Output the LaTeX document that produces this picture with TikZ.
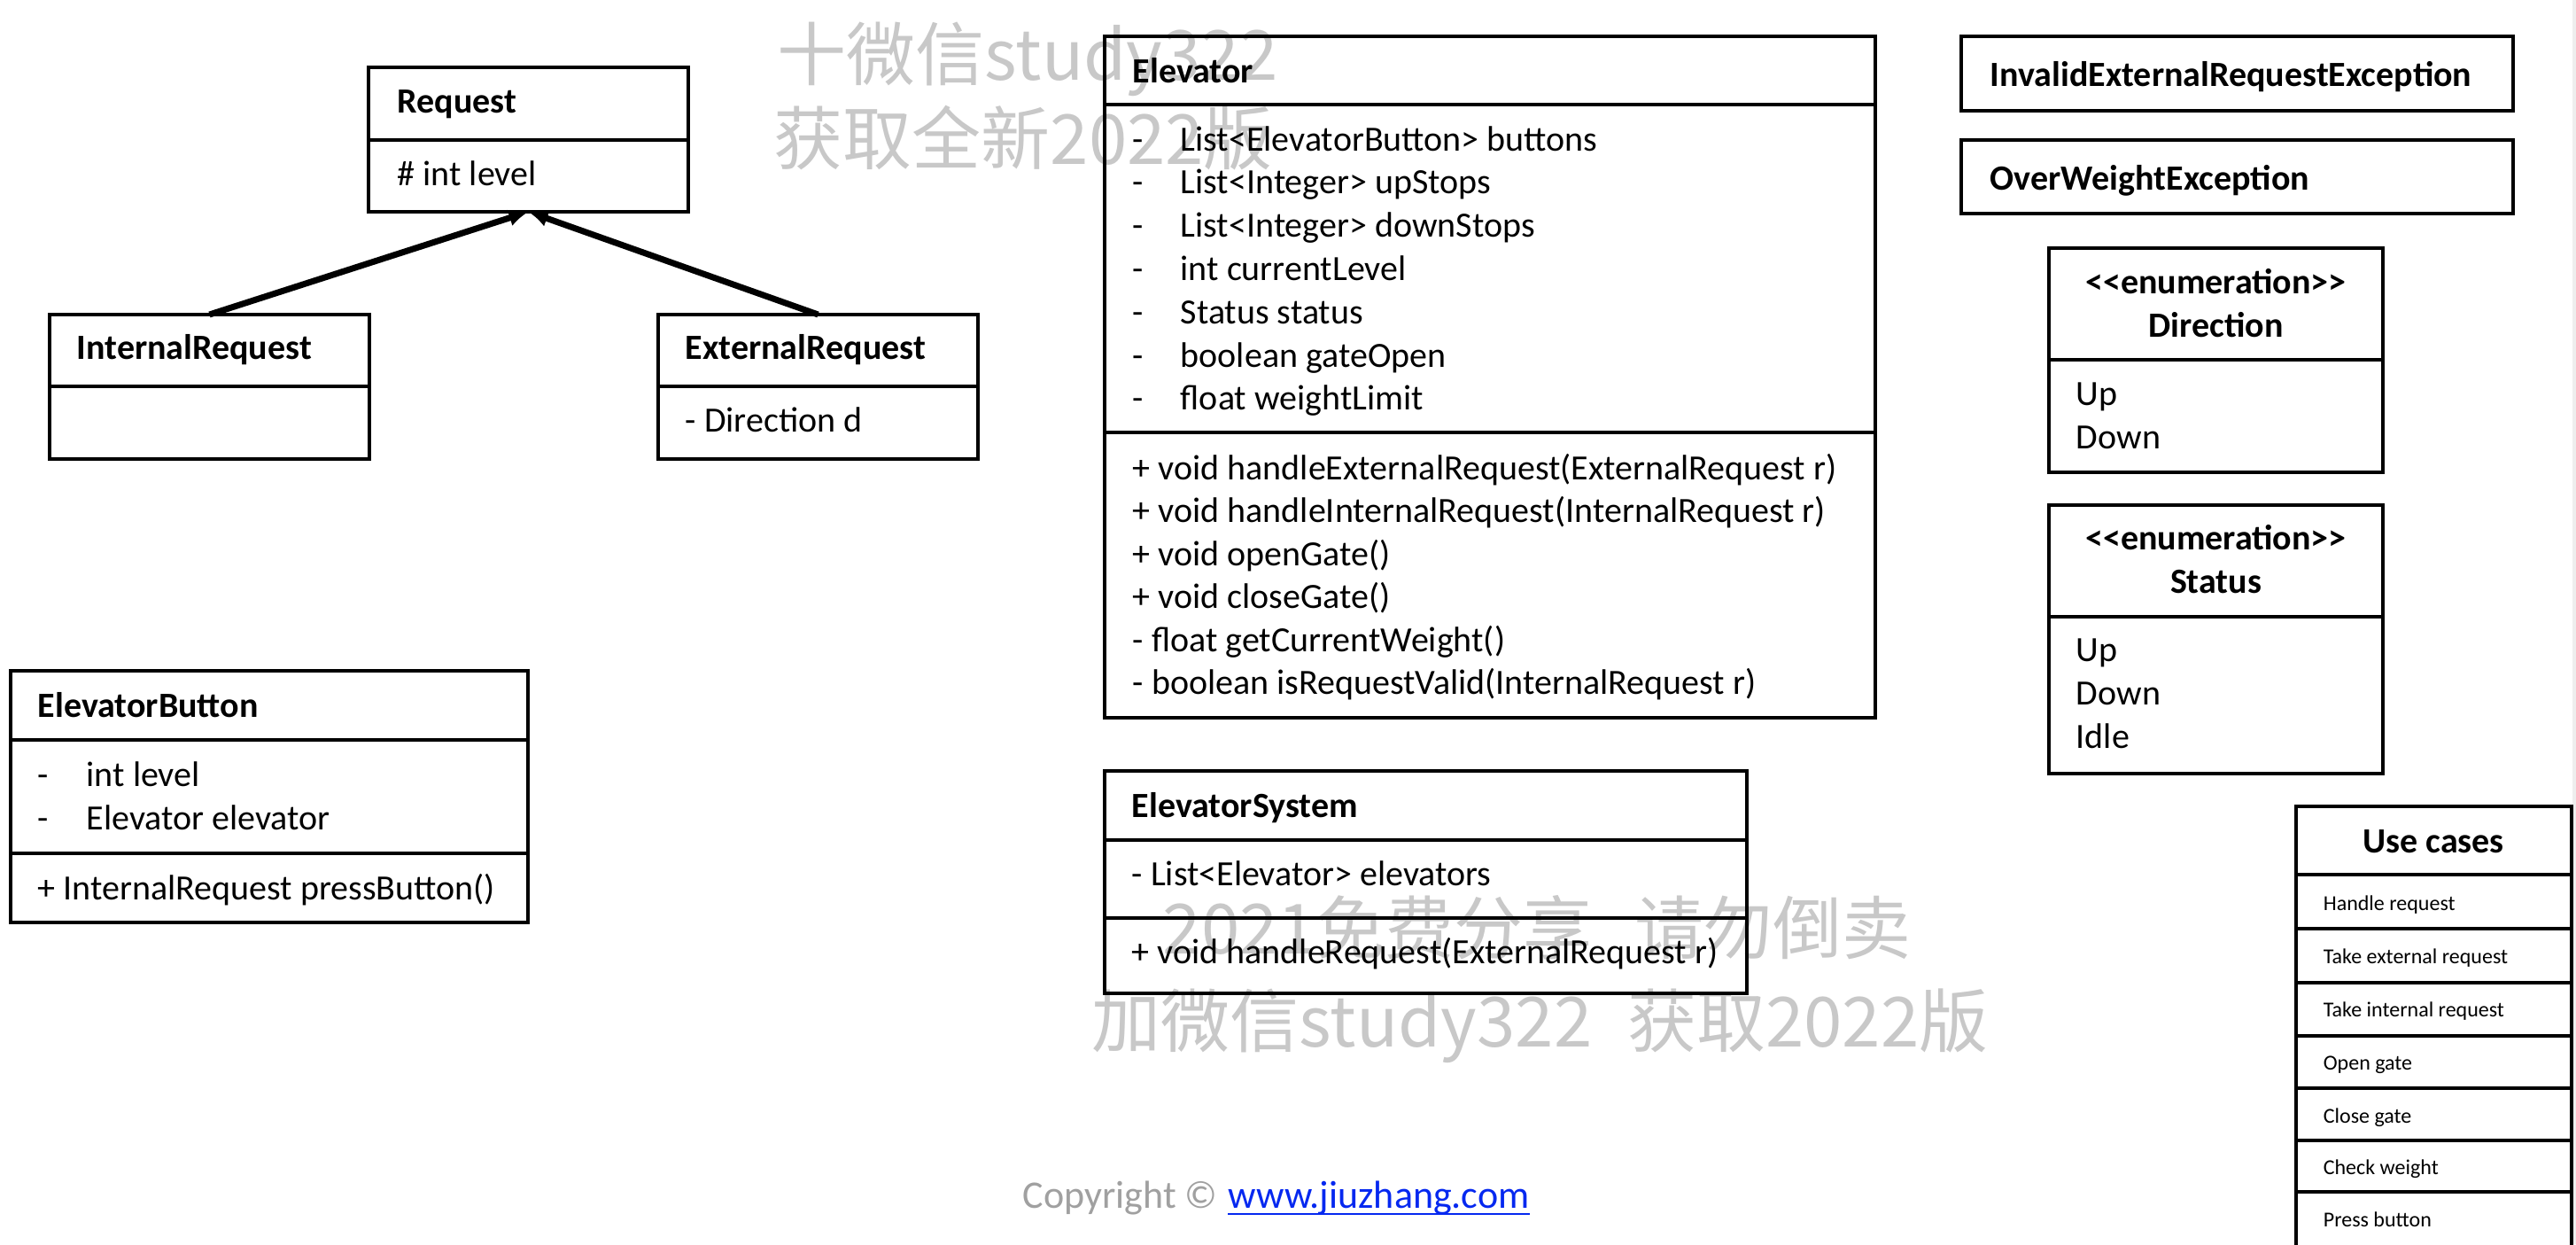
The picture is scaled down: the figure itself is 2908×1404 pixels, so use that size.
\documentclass[tikz,border=0pt]{standalone}
\usepackage{fontspec}
\setmainfont{Carlito}
\newfontfamily\cjk{Noto Sans CJK SC}
\usetikzlibrary{arrows.meta}
\definecolor{wmgray}{RGB}{200,200,200}
\definecolor{cpgray}{RGB}{160,160,160}
\definecolor{linkblue}{RGB}{5,40,240}
\definecolor{edgegray}{RGB}{238,238,238}
\newcommand\compart[5]{\node[cbox, minimum width=#4*0.25pt, minimum height=#5*0.25pt] (#1) at (#2,#3) {};}
\newcommand\enumtag{<\kern0pt<\kern0pt enumeration>\kern0pt>}
\begin{document}
\begin{tikzpicture}[x=0.25pt,y=-0.25pt,
  cbox/.style={draw, line width=1pt, rectangle, inner sep=0pt, outer sep=0pt, anchor=north west},
  txt/.style={inner sep=0pt, anchor=base west, font=\fontsize{10pt}{12.2pt}\selectfont},
  btxt/.style={inner sep=0pt, anchor=base west, font=\fontsize{10pt}{12.2pt}\selectfont\bfseries},
  ctxt/.style={inner sep=0pt, anchor=base, font=\fontsize{10pt}{12.2pt}\selectfont\bfseries},
  uctxt/.style={inner sep=0pt, anchor=base west, font=\fontsize{6pt}{7.2pt}\selectfont},
  wm/.style={inner sep=0pt, anchor=base west, text=wmgray, font=\cjk\fontsize{19.5pt}{23pt}\selectfont},
  inh/.style={line width=1.75pt, -{Latex[length=5.5pt,width=4.8pt]}}
]
\fill[white] (0,0) rectangle (2908,1404);
\useasboundingbox (0,0) rectangle (2908,1404);
\fill[edgegray] (2904,0) rectangle (2908,1404);

% watermark (under everything)
\node[wm] (wmA) at (877,90) {十微信study322};
\node[wm] (wmB) at (873,185) {获取全新2022版};
\node[wm] (wmC) at (1312,1076) {2021免费分享\hspace{12pt}请勿倒卖};
\node[wm] (wmD) at (1232,1181) {加微信study322\hspace{10pt}获取2022版};

% Request
\compart{reqT}{416}{76}{361}{82}
\compart{reqA}{416}{158}{361}{81}
\node[btxt] (reqN) at (448,127) {Request};
\node[txt] (reqL) at (448,209) {\# int level};

% InternalRequest
\compart{irT}{56}{355}{361}{81}
\compart{irA}{56}{436}{361}{82}
\node[btxt] (irN) at (86,405) {InternalRequest};

% ExternalRequest
\compart{erT}{743}{355}{361}{81}
\compart{erA}{743}{436}{361}{82}
\node[btxt] (erN) at (773,405) {ExternalRequest};
\node[txt] (erD) at (773,487) {- Direction d};

\draw[inh] (irT.north) -- (reqA.south);
\draw[inh] (erT.north) -- (reqA.south);

% Elevator
\compart{elT}{1247}{41}{870}{77}
\compart{elA}{1247}{118}{870}{370}
\compart{elM}{1247}{488}{870}{322}
\node[btxt] (elN) at (1278,93) {Elevator};
\foreach \t [count=\i from 0] in {List<ElevatorButton> buttons, List<Integer> upStops, List<Integer> downStops, int currentLevel, Status status, boolean gateOpen, float weightLimit}{
  \node[txt] (eld\i) at (1278,{170+48.8*\i}) {-};
  \node[txt] (ela\i) at (1332,{170+48.8*\i}) {\t};
}
\foreach \t [count=\i from 0] in {+ void handleExternalRequest(ExternalRequest r), + void handleInternalRequest(InternalRequest r), + void openGate(), + void closeGate(), - float getCurrentWeight(), - boolean isRequestValid(InternalRequest r)}{
  \node[txt] (elm\i) at (1278,{541+48.5*\i}) {\t};
}

% ElevatorButton
\compart{ebT}{12}{757}{584}{78}
\compart{ebA}{12}{835}{584}{128}
\compart{ebM}{12}{963}{584}{78}
\node[btxt] (ebN) at (42,809) {ElevatorButton};
\node[txt] (ebd1) at (42,887) {-};
\node[txt] (eba1) at (97,887) {int level};
\node[txt] (ebd2) at (42,936) {-};
\node[txt] (eba2) at (97,936) {Elevator elevator};
\node[txt] (ebm1) at (42,1015) {+ InternalRequest pressButton()};

% ElevatorSystem
\compart{esT}{1247}{870}{725}{78}
\compart{esA}{1247}{948}{725}{88}
\compart{esM}{1247}{1036}{725}{85}
\node[btxt] (esN) at (1277,922) {ElevatorSystem};
\node[txt] (esa1) at (1277,999) {- List<Elevator> elevators};
\node[txt] (esm1) at (1277,1087) {+ void handleRequest(ExternalRequest r)};

% Exceptions
\compart{inv}{2214}{41}{623}{84}
\node[btxt] (invN) at (2246,97) {InvalidExternalRequestException};
\compart{ovw}{2214}{158}{623}{83}
\node[btxt] (ovwN) at (2246,214) {OverWeightException};

% Direction
\compart{dirT}{2313}{280}{377}{126}
\compart{dirA}{2313}{406}{377}{127}
\node[ctxt] (dirS) at (2501.5,331) {\enumtag};
\node[ctxt] (dirN) at (2501.5,380) {Direction};
\node[txt] (dir1) at (2343,457) {Up};
\node[txt] (dir2) at (2343,506) {Down};

% Status
\compart{stT}{2313}{570}{377}{126}
\compart{stA}{2313}{696}{377}{177}
\node[ctxt] (stS) at (2501.5,620) {\enumtag};
\node[ctxt] (stN) at (2501.5,669) {Status};
\node[txt] (st1) at (2343,746) {Up};
\node[txt] (st2) at (2343,795) {Down};
\node[txt] (st3) at (2343,844) {Idle};

% Use cases
\compart{ucT}{2592}{910}{311}{77}
\node[ctxt] (ucN) at (2747,962) {Use cases};
\compart{uc1}{2592}{987}{311}{61}
\compart{uc2}{2592}{1048}{311}{61}
\compart{uc3}{2592}{1109}{311}{60}
\compart{uc4}{2592}{1169}{311}{59}
\compart{uc5}{2592}{1228}{311}{59}
\compart{uc6}{2592}{1287}{311}{58}
\compart{uc7}{2592}{1345}{311}{80}
\node[uctxt] (uct1) at (2622,1027) {Handle request};
\node[uctxt] (uct2) at (2622,1087) {Take external request};
\node[uctxt] (uct3) at (2622,1147) {Take internal request};
\node[uctxt] (uct4) at (2622,1207) {Open gate};
\node[uctxt] (uct5) at (2622,1267) {Close gate};
\node[uctxt] (uct6) at (2622,1325) {Check weight};
\node[uctxt] (uct7) at (2622,1384) {Press button};

% Copyright
\node[inner sep=0pt, anchor=base west, text=cpgray, font=\fontsize{11pt}{13pt}\selectfont] (copy) at (1154,1363) {Copyright ©};
\node[inner sep=0pt, anchor=base west, text=linkblue, font=\fontsize{11pt}{13pt}\selectfont] (link) at (1386,1363) {www.jiuzhang.com};
\draw[linkblue, line width=0.6pt] ([yshift=-1.8pt]link.base west) -- ([yshift=-1.8pt]link.base east);
\end{tikzpicture}
\end{document}
